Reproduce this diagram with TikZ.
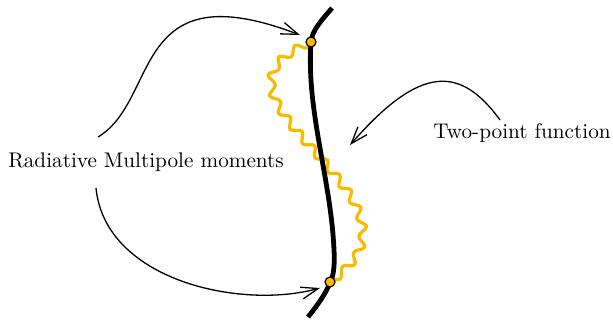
\documentclass[tikz,border=0pt]{standalone}
\usetikzlibrary{arrows.meta,decorations.pathmorphing}
\definecolor{gluon}{RGB}{250,186,0}
\begin{document}
\begin{tikzpicture}[x=0.5pt,y=-0.5pt,
  >={Straight Barb[length=8.5pt,width=6pt]},
  every node/.style={font=\fontsize{10.6}{13}\selectfont},
  vertex/.style={draw,circle,fill=gluon,inner sep=0pt,minimum size=5pt,line width=0.6pt},
  worldline/.style={line width=2.4pt},
  wavy/.style={gluon,line width=1.6pt,line join=round,line cap=round,decorate,
    decoration={snake,amplitude=2pt,segment length=9.5pt}},
  pointer/.style={->,line width=0.65pt}]
\useasboundingbox (0,0) rectangle (613,322);

\node (rmm) at (146,162) {Radiative Multipole moments};
\node (tpf) at (522,133) {Two-point function};

\coordinate (rmmup) at (98,137);
\coordinate (rmmdown) at (96,188);
\coordinate (tpfup) at (500,120);
\coordinate (hitup) at (300,35);
\coordinate (hitdown) at (320,288);
\coordinate (hitmid) at (350,145);

\draw[wavy] (311,42) .. controls (180,100) and (465,200) .. (330,282);
\draw[worldline] (332,8) .. controls (322,20) and (312,30) .. (311,42)
  .. controls (306,110) and (331,180) .. (334,250)
  .. controls (335,268) and (333,277) .. (330,283)
  .. controls (325,295) and (316,307) .. (308,317);

\node[vertex] (v1) at (311,42) {};
\node[vertex] (v2) at (330,282) {};

\draw[pointer] (rmmup) .. controls (160,100) and (130,-30) .. (hitup);
\draw[pointer] (rmmdown) .. controls (105,280) and (240,310) .. (hitdown);
\draw[pointer] (tpfup) .. controls (460,65) and (420,65) .. (hitmid);
\end{tikzpicture}
\end{document}
